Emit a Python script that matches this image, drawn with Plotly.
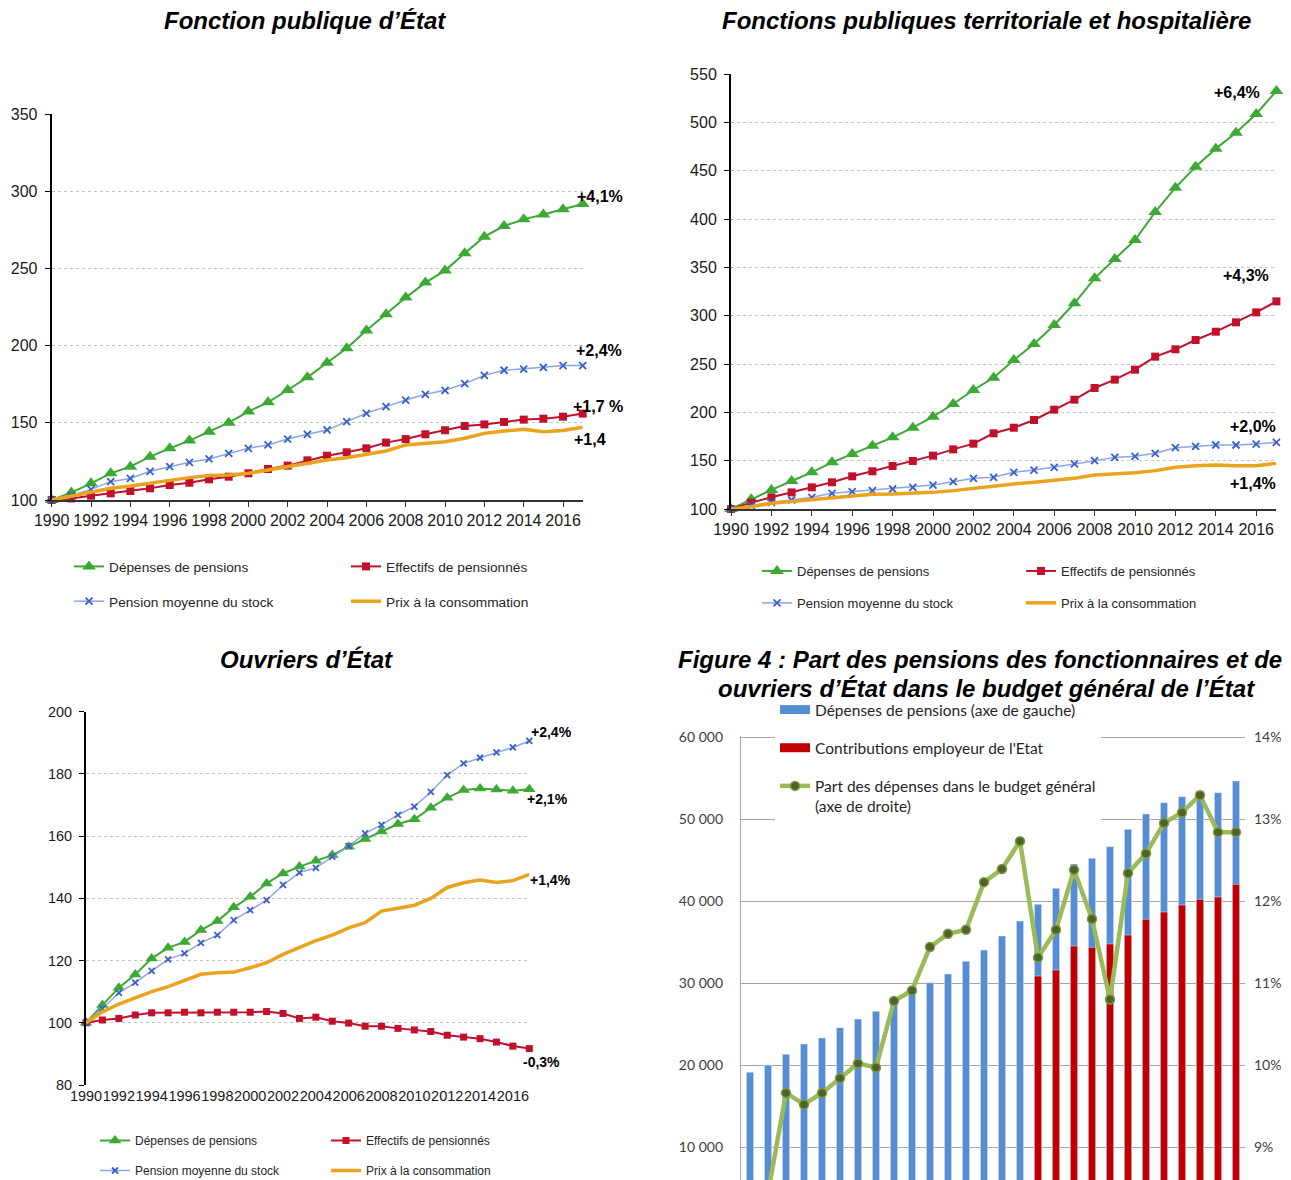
import plotly.graph_objects as go

W, H = 1291, 1180
OFF = 8  # the page body adds an 8 px margin around the figure
FONT = 'Liberation Sans, Arial, sans-serif'
XL_FONT = 'Lato, Open Sans, sans-serif'

years = list(range(1990, 2018))

# Fonction publique d'État (base 100 en 1990)
fpe_depenses = [100, 104.8, 110.8, 117.3, 121.6, 128.1, 133.5, 138.5, 144.3, 150.1, 157.3, 163.3, 171.3, 179.5,
                189.0, 198.3, 209.8, 220.4, 231.2, 240.9, 248.7, 259.9, 270.7, 277.6, 281.9, 285.0, 288.4, 291.9]
fpe_effectifs = [100, 101, 102.8, 104.3, 105.8, 107.6, 109.7, 111.2, 113.4, 115.1, 117.3, 120.1, 122.3, 125.7,
                 128.7, 130.9, 133.5, 137.2, 139.5, 142.6, 145.2, 148.0, 149.0, 150.6, 152.1, 152.7, 154.0, 156.0]
fpe_pension_moy = [100, 103, 106.9, 111.9, 114.0, 118.6, 121.6, 124.4, 126.6, 130.2, 133.5, 135.7, 139.5, 142.6,
                   145.4, 150.8, 156.2, 160.5, 164.8, 168.5, 171.1, 175.4, 180.8, 184.1, 184.9, 186.0, 187.1, 187.1]
fpe_prix = [100, 102.6, 105.4, 107.6, 109.1, 110.8, 113.0, 114.5, 115.8, 116.2, 117.3, 119.4, 121.6, 123.8,
            125.9, 127.4, 129.8, 131.8, 135.7, 136.7, 137.8, 140.0, 143.2, 144.7, 145.8, 144.3, 145.0, 147.1]

# Fonctions publiques territoriale et hospitalière
fpth_depenses = [100, 110, 119.7, 129, 137.9, 148.3, 156.9, 165.5, 174.1, 184.1, 195.5, 208.6, 223.1, 235.9,
                 254.1, 270.7, 290.3, 312.8, 338.6, 358.6, 378.3, 407.2, 432.4, 454.1, 472.8, 489.3, 508.6, 532.4]
fpth_effectifs = [100, 106.6, 112.1, 117.2, 122.4, 127.6, 133.8, 139.0, 144.5, 149.7, 155.2, 161.7, 167.6, 178.3,
                  184.1, 192.1, 202.8, 213.1, 225.2, 233.8, 244.1, 257.6, 265.2, 274.8, 283.4, 293.1, 303.4, 314.8]
fpth_pension_moy = [100, 103.4, 106.9, 109.3, 112.1, 116.2, 117.9, 119.0, 120.7, 122.4, 124.8, 128.3, 131.7, 132.8,
                    137.9, 140.3, 143.1, 146.6, 150.0, 153.4, 154.5, 157.6, 163.4, 164.8, 166.2, 166.2, 167.2, 169.0]
fpth_prix = [100, 102.4, 105.9, 107.6, 109.3, 111.0, 112.8, 115.2, 115.5, 116.2, 117.2, 119.0, 121.4, 123.8,
             125.9, 127.6, 130.0, 131.7, 135.2, 136.2, 137.6, 139.7, 143.1, 144.8, 145.5, 144.8, 144.8, 147.2]

# Ouvriers d'État
oe_depenses = [100, 105.7, 111.3, 115.5, 120.7, 124.1, 126.0, 129.8, 132.7, 137.1, 140.5, 144.8, 148.0, 150.2,
               152.1, 153.9, 156.6, 159.1, 161.5, 163.9, 165.4, 169.1, 172.3, 174.8, 175.3, 175.0, 174.6, 175.1]
oe_effectifs = [100, 100.9, 101.4, 102.5, 103.2, 103.2, 103.4, 103.2, 103.4, 103.4, 103.4, 103.6, 103.0, 101.4,
                101.8, 100.5, 99.9, 98.9, 98.9, 98.2, 97.7, 97.2, 96.0, 95.4, 94.9, 93.8, 92.5, 91.7]
oe_pension_moy = [100, 104.6, 109.6, 112.9, 116.7, 120.4, 122.3, 125.7, 128.2, 133.0, 136.2, 139.4, 144.3, 148.3,
                  149.8, 153.4, 156.8, 160.9, 163.6, 166.8, 169.5, 174.2, 179.6, 183.4, 185.2, 186.9, 188.5, 190.6]
oe_prix = [100, 103.5, 106.0, 108.1, 110.0, 111.6, 113.7, 115.6, 116.1, 116.3, 117.7, 119.3, 122.0, 124.2,
           126.4, 128.2, 130.5, 132.2, 135.9, 136.8, 137.8, 140.0, 143.5, 145.0, 145.9, 145.1, 145.7, 147.7]

# Figure 4 : budget général (M€ et %)
budget_depenses = [19110, 20000, 21300, 22560, 23290, 24550, 25610, 26540, 27520, 28660, 30040, 31100, 32640, 34020,
                   35730, 37560, 39590, 41540, 44510, 45200, 46630, 48740, 50610, 51990, 52720, 53410, 53210, 54630]
budget_contrib = [None] * 16 + [30850, 31580, 34510, 34350, 34760, 35850, 37770, 38660, 39510, 40200, 40490, 42030]
budget_part = [None, 8.44, 9.66, 9.52, 9.66, 9.84, 10.02, 9.97, 10.78, 10.91, 11.44, 11.60, 11.65, 12.23,
               12.39, 12.73, 11.31, 11.65, 12.38, 11.78, 10.80, 12.34, 12.58, 12.95, 13.08, 13.29, 12.84, 12.84]

GREEN = '#3DA935'
RED = '#C0102B'
BLUE_LINE = '#8EA6E0'
BLUE_MARK = '#3B5FCB'
ORANGE = '#E9A31F'


def px_x(x):
    return (x - OFF) / W


def px_y(y):
    return 1 - (y - OFF) / H


def xdom(l, r):
    return [px_x(l), px_x(r)]


def ydom(t, b):
    return [px_y(b), px_y(t)]


fig = go.Figure()


def add_panel(n, dep, eff, moy, prix, leg_l, leg_r, msize):
    xa = 'x' if n == 1 else 'x%d' % n
    ya = 'y' if n == 1 else 'y%d' % n
    common = dict(x=years, xaxis=xa, yaxis=ya, cliponaxis=False)
    fig.add_trace(go.Scatter(y=dep, name='Dépenses de pensions', legend=leg_l, legendgroup='%da' % n,
                             mode='lines+markers', line=dict(color=GREEN, width=2),
                             marker=dict(symbol='triangle-up', size=msize + 4, color=GREEN), **common))
    fig.add_trace(go.Scatter(y=eff, name='Effectifs de pensionnés', legend=leg_r, legendgroup='%dc' % n,
                             mode='lines+markers', line=dict(color=RED, width=2),
                             marker=dict(symbol='square', size=msize, color=RED), **common))
    fig.add_trace(go.Scatter(y=moy, name='Pension moyenne du stock', legend=leg_l, legendgroup='%db' % n,
                             mode='lines+markers', line=dict(color=BLUE_LINE, width=1.5),
                             marker=dict(symbol='x-thin', size=msize - 1, line=dict(color=BLUE_MARK, width=1.8)),
                             **common))
    fig.add_trace(go.Scatter(y=prix, name='Prix à la consommation', legend=leg_r, legendgroup='%dd' % n,
                             mode='lines', line=dict(color=ORANGE, width=3.5), **common))


add_panel(1, fpe_depenses, fpe_effectifs, fpe_pension_moy, fpe_prix, 'legend', 'legend2', 8)
add_panel(2, fpth_depenses, fpth_effectifs, fpth_pension_moy, fpth_prix, 'legend3', 'legend4', 8)
add_panel(3, oe_depenses, oe_effectifs, oe_pension_moy, oe_prix, 'legend5', 'legend6', 7)

# Figure 4
fig.add_trace(go.Bar(x=years, y=budget_depenses, xaxis='x4', yaxis='y4', marker_color='#558ED5',
                     width=0.4, showlegend=False, name='Dépenses de pensions (axe de gauche)'))
fig.add_trace(go.Bar(x=years, y=budget_contrib, xaxis='x4', yaxis='y4', marker_color='#C00000',
                     width=0.4, showlegend=False, name="Contributions employeur de l'Etat"))
# legend swatches drawn as wide bars, like the Excel legend
fig.add_trace(go.Scatter(x=[None], y=[None], xaxis='x4', yaxis='y4', mode='lines', legend='legend7',
                         legendgroup='b1', line=dict(color='#558ED5', width=9),
                         name='Dépenses de pensions (axe de gauche)'))
fig.add_trace(go.Scatter(x=[None], y=[None], xaxis='x4', yaxis='y4', mode='lines', legend='legend7',
                         legendgroup='b2', line=dict(color='#C00000', width=9),
                         name="Contributions employeur de l'Etat"))
fig.add_trace(go.Scatter(x=years, y=budget_part, xaxis='x4', yaxis='y5', mode='lines+markers', legend='legend7',
                         legendgroup='b3', line=dict(color='#9BBB59', width=4.5),
                         marker=dict(size=9, color='#4F6228', line=dict(color='#7E9A45', width=1.5)),
                         name='Part des dépenses dans le budget général<br>(axe de droite)'))

tick_black = '#1a1a1a'


def idx_x(dom, size, anchor, line=True):
    return dict(domain=dom, anchor=anchor, range=[1990, 2017], tick0=1990, dtick=2, tickangle=0,
                showgrid=False, zeroline=False, showline=line, linecolor='#333333', linewidth=2,
                ticks='outside' if line else '', ticklen=5, tickcolor='#333333',
                tickfont=dict(family=FONT, size=size, color=tick_black))


def idx_y(dom, rng, dt, size, anchor):
    return dict(domain=dom, anchor=anchor, range=rng, dtick=dt, showgrid=True, gridcolor='#C4C4C4',
                griddash='dot', gridwidth=1, zeroline=False, showline=True, linecolor='black', linewidth=2,
                ticks='outside', ticklen=5, tickcolor='black', ticklabelstandoff=4,
                tickfont=dict(family=FONT, size=size, color=tick_black))


p3_top, p3_bot = 711.7, 1085
p3_range = [80, 200]
p3_line_pos = px_y(p3_bot - (100 - p3_range[0]) / (p3_range[1] - p3_range[0]) * (p3_bot - p3_top))

# left axis of figure 4: 82 px per 10 000, a little headroom so the 60 000 grid line shows
p4_bot = 1180
p4_range = [5976, 60150]
p4_top = 737 - (p4_range[1] - 60000) * 82 / 10000
p4_right_range = [8.598, 14 + (p4_range[1] - 60000) / 10000]


def leg(text_x, top_y, size, gap, fam=FONT, **kw):
    return dict(x=px_x(text_x - 40), y=px_y(top_y), xanchor='left', yanchor='top', orientation='v',
                font=dict(family=fam, size=size, color='#262626'), bgcolor='rgba(0,0,0,0)',
                tracegroupgap=gap, traceorder='grouped', **kw)


fig.update_layout(
    width=W, height=H,
    margin=dict(l=0, r=0, t=0, b=0, autoexpand=False),
    paper_bgcolor='white', plot_bgcolor='white',
    separators=', ',
    barmode='overlay',
    xaxis=idx_x(xdom(51.7, 582.7), 16, 'y'),
    yaxis=idx_y(ydom(114.3, 500), [100, 350], 50, 16, 'x'),
    xaxis2=idx_x(xdom(731, 1276.4), 16, 'y2'),
    yaxis2=idx_y(ydom(74, 509), [100, 550], 50, 16, 'x2'),
    xaxis3=idx_x(xdom(86, 529.3), 14.5, 'y3', line=False),
    yaxis3=idx_y(ydom(p3_top, p3_bot), p3_range, 20, 14.5, 'x3'),
    xaxis5=dict(overlaying='x3', anchor='free', position=p3_line_pos, range=[1990, 2017], tick0=1990, dtick=2,
                showticklabels=False, showgrid=False, zeroline=False, showline=True, linecolor='#8C8C8C',
                linewidth=1.5, ticks='outside', ticklen=5, tickcolor='#8C8C8C'),
    xaxis4=dict(domain=xdom(741, 1245), anchor='y4', range=[1989.5, 2017.5], showticklabels=False,
                showgrid=False, zeroline=False, showline=False),
    yaxis4=dict(domain=ydom(p4_top, p4_bot), anchor='x4', range=p4_range, tick0=0, dtick=10000,
                tickformat=',d', exponentformat='none',
                showgrid=True, gridcolor='#A6A6A6', gridwidth=1.3, zeroline=False, showline=True,
                linecolor='#A6A6A6', linewidth=1.3, ticks='', ticklabelstandoff=14,
                tickfont=dict(family=XL_FONT, size=14, color='#404040')),
    yaxis5=dict(overlaying='y4', anchor='x4', side='right', range=p4_right_range, tick0=0, dtick=1,
                ticksuffix='%', showgrid=False, zeroline=False, showline=False, ticks='', ticklabelstandoff=8,
                tickfont=dict(family=XL_FONT, size=14, color='#404040')),
    legend=leg(109, 551, 13.7, 14),
    legend2=leg(386, 551, 13.7, 14),
    legend3=leg(797, 556, 13, 12),
    legend4=leg(1061, 556, 13, 12),
    legend5=leg(135, 1126, 12, 11),
    legend6=leg(366, 1126, 12, 11),
    legend7=leg(815, 693, 15.5, 15, fam=XL_FONT, valign='top'),
)

fig.update_layout(legend7=dict(bgcolor='white'))

title_font = dict(family=FONT, size=24, color='black')
titles = [
    ('<b><i>Fonction publique d’État</i></b>', 305, 21),
    ('<b><i>Fonctions publiques territoriale et hospitalière</i></b>', 986, 21),
    ('<b><i>Ouvriers d’État</i></b>', 306, 660),
    ('<b><i>Figure 4 : Part des pensions des fonctionnaires et des</i></b>', 986, 660),
    ('<b><i>ouvriers d’État dans le budget général de l’État</i></b>', 986, 688),
]
for txt, px, py in titles:
    fig.add_annotation(text=txt, xref='paper', yref='paper', x=px_x(px), y=px_y(py), xanchor='center',
                       yanchor='middle', showarrow=False, font=title_font)

# growth labels: horizontal place in pixels, height in the panel's own values
growth_labels = [
    ('y', '+4,1%', 599.5, 296.4, 16),
    ('y', '+2,4%', 599, 197.2, 16),
    ('y', '+1,7 %', 598, 160.9, 16),
    ('y', '+1,4', 590, 138.9, 16),
    ('y2', '+6,4%', 1237, 531.1, 16),
    ('y2', '+4,3%', 1246, 341.3, 16),
    ('y2', '+2,0%', 1253, 185.1, 16),
    ('y2', '+1,4%', 1253, 125.9, 16),
    ('y3', '+2,4%', 551, 193.6, 14),
    ('y3', '+2,1%', 547.5, 171.8, 14),
    ('y3', '+1,4%', 550, 145.9, 14),
    ('y3', '-0,3%', 541, 87.5, 14),
]
for yr, txt, xp, yv, fs in growth_labels:
    fig.add_annotation(text='<b>%s</b>' % txt, xref='paper', yref=yr, x=px_x(xp), y=yv, xanchor='center',
                       yanchor='middle', showarrow=False, font=dict(family=FONT, size=fs, color='black'))

fig.write_html('out.html')
